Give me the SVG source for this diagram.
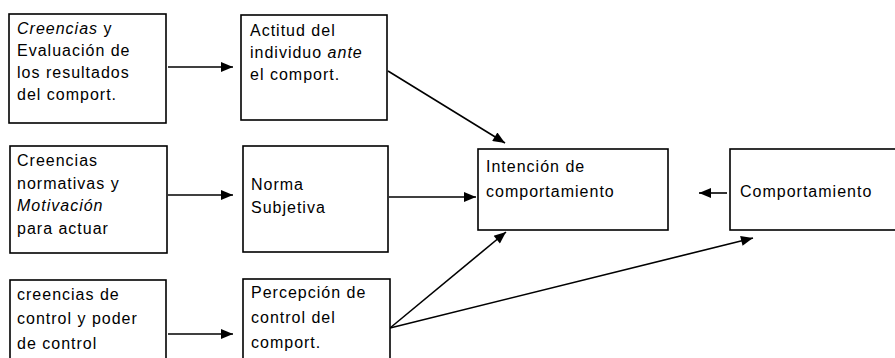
<svg xmlns="http://www.w3.org/2000/svg" width="895" height="358" viewBox="0 0 895 358">
<style>
.box{fill:#fff;stroke:#000;stroke-width:1.6}
.t{font-family:"Liberation Sans",Arial,sans-serif;font-size:16px;fill:#000;letter-spacing:1px}
.i{font-style:italic}
.c{stroke:#000;stroke-width:1.6;fill:none}
</style>
<defs>
<marker id="ah" viewBox="0 0 12 10" refX="12" refY="5" markerWidth="13" markerHeight="10" markerUnits="userSpaceOnUse" orient="auto">
<path d="M0,0 L12,5 L0,10 Z" fill="#000"/>
</marker>
</defs>
<rect width="895" height="358" fill="#fff"/>
<g id="connectors">
<line class="c" x1="168" y1="67" x2="233" y2="67" marker-end="url(#ah)"/>
<line class="c" x1="168" y1="195" x2="233" y2="195" marker-end="url(#ah)"/>
<line class="c" x1="168" y1="334" x2="233" y2="334" marker-end="url(#ah)"/>
<line class="c" x1="388" y1="71" x2="505" y2="143" marker-end="url(#ah)"/>
<line class="c" x1="389" y1="197" x2="476" y2="197" marker-end="url(#ah)"/>
<line class="c" x1="390" y1="328" x2="506" y2="232" marker-end="url(#ah)"/>
<line class="c" x1="390" y1="328" x2="753" y2="238" marker-end="url(#ah)"/>
<line class="c" x1="727" y1="193" x2="699" y2="193" marker-end="url(#ah)"/>
</g>
<g id="n1">
<rect class="box" x="9" y="14" width="157" height="109"/>
<text class="t" x="17" y="34"><tspan class="i">Creencias</tspan> y</text>
<text class="t" x="17" y="56">Evaluación de</text>
<text class="t" x="17" y="78">los resultados</text>
<text class="t" x="17" y="100">del comport.</text>
</g>
<g id="n2">
<rect class="box" x="241" y="15" width="146" height="105"/>
<text class="t" x="250" y="36">Actitud del</text>
<text class="t" x="250" y="58">individuo <tspan class="i">ante</tspan></text>
<text class="t" x="250" y="80">el comport.</text>
</g>
<g id="n3">
<rect class="box" x="10" y="146" width="157" height="107"/>
<text class="t" x="17" y="166">Creencias</text>
<text class="t" x="17" y="189">normativas y</text>
<text class="t" x="17" y="211" font-style="italic">Motivación</text>
<text class="t" x="17" y="234">para actuar</text>
</g>
<g id="n4">
<rect class="box" x="243" y="146" width="145" height="106"/>
<text class="t" x="251" y="190">Norma</text>
<text class="t" x="251" y="213">Subjetiva</text>
</g>
<g id="n5">
<rect class="box" x="478" y="149" width="190" height="81"/>
<text class="t" x="486" y="172">Intención de</text>
<text class="t" x="486" y="197">comportamiento</text>
</g>
<g id="n6">
<rect class="box" x="730" y="149" width="175" height="81"/>
<text class="t" x="740" y="197">Comportamiento</text>
</g>
<g id="n7">
<rect class="box" x="10" y="280" width="156" height="90"/>
<text class="t" x="17" y="300">creencias de</text>
<text class="t" x="17" y="324">control y poder</text>
<text class="t" x="17" y="349">de control</text>
</g>
<g id="n8">
<rect class="box" x="243" y="279" width="147" height="90"/>
<text class="t" x="251" y="298">Percepción de</text>
<text class="t" x="251" y="323">control del</text>
<text class="t" x="251" y="348">comport.</text>
</g>
</svg>
